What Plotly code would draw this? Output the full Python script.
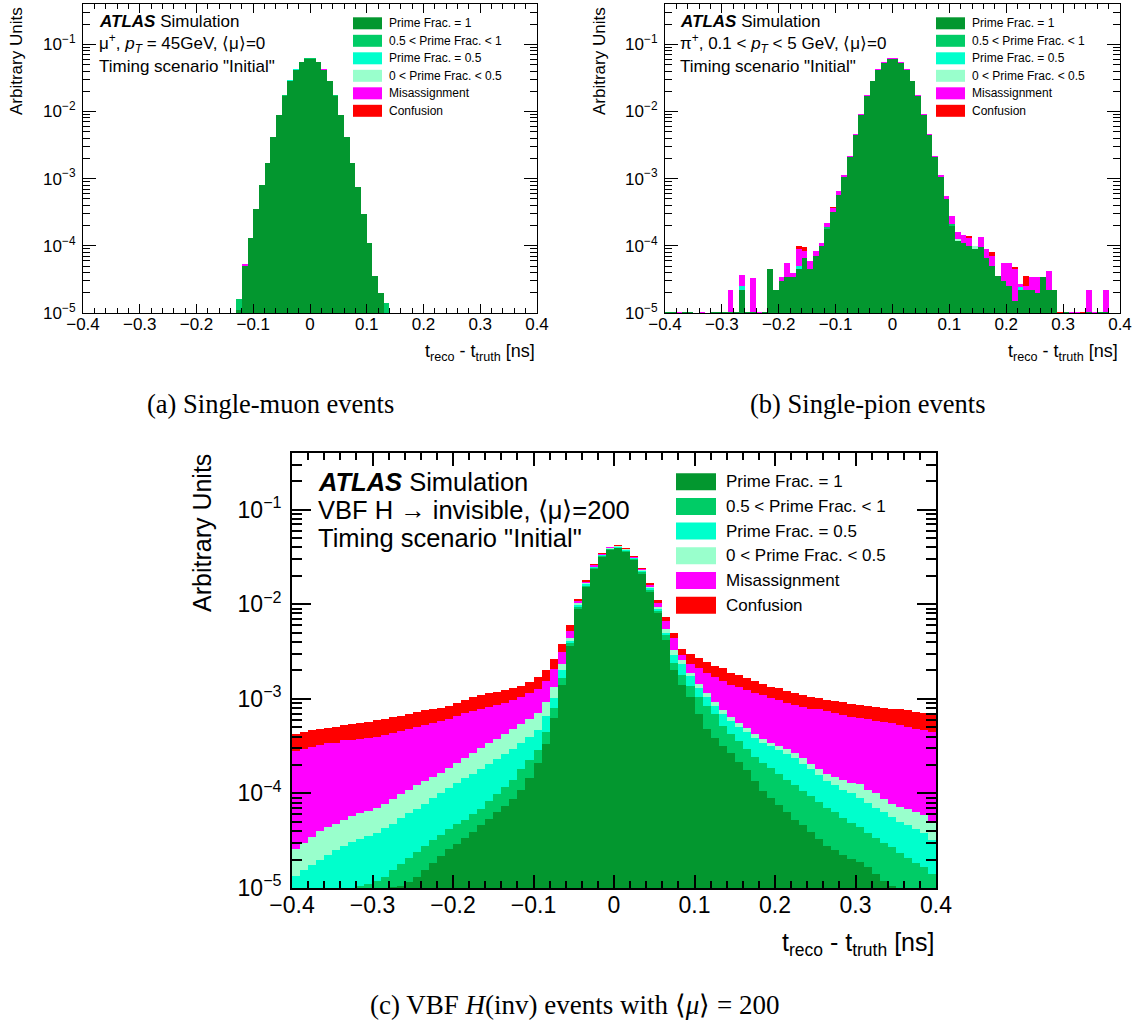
import numpy as np
import plotly.graph_objects as go

# ---------------- binning and categories ----------------
bin_edges = np.linspace(-0.4, 0.4, 81)
bin_centers = np.round((bin_edges[:-1] + bin_edges[1:]) / 2, 4)
bin_width = 0.01

category_labels = ["Prime Frac. = 1", "0.5 &lt; Prime Frac. &lt; 1", "Prime Frac. = 0.5",
                   "0 &lt; Prime Frac. &lt; 0.5", "Misassignment", "Confusion"]
category_colors = ["#03972F", "#00CC66", "#00FFCC", "#99FFCC", "#FF00FF", "#FF0000"]

y_decades = [1e-5, 1e-4, 1e-3, 1e-2, 1e-1]
y_decade_text = ["10<sup>\u22125</sup>", "10<sup>\u22124</sup>", "10<sup>\u22123</sup>",
                 "10<sup>\u22122</sup>", "10<sup>\u22121</sup>"]

# ---------------- (a) single muon: per-category bin contents ----------------
muon_prime1 = [0] * 27 + [1.1e-5, 5.0e-5, 1.3e-4, 3.5e-4, 8.0e-4, 1.7e-3, 4.2e-3, 9.0e-3, 0.0171, 0.0284,
                          0.0415, 0.0537, 0.0610, 0.0610, 0.0537, 0.0415, 0.0284, 0.0171, 9.0e-3, 4.2e-3,
                          1.7e-3, 7.5e-4, 3.0e-4, 1.1e-4, 3.5e-5, 2.0e-5] + [0] * 27
muon_mid = [0] * 27 + [5e-6] + [0] * 7 + [2.5e-4, 4e-4, 6e-4, 8e-4, 9e-4, 9e-4, 8e-4, 6e-4, 4e-4, 2.5e-4] \
           + [0] * 8 + [1.4e-5] + [0] * 26
muon_half = [0] * 36 + [2e-4, 3e-4, 4e-4, 4e-4, 3e-4, 2e-4] + [0] * 38
muon_low = [0] * 80
muon_misassign = [0] * 28 + [3e-6] + [0] * 8 + [2e-4, 3e-4, 3e-4, 3e-4, 3e-4, 2e-4] + [0] * 37
muon_confusion = [0] * 80

# ---------------- (b) single pion: per-category bin contents ----------------
pion_prime1 = [
    1.05e-5, 1.05e-5, 0, 1.05e-5, 1.05e-5, 0, 0, 0, 1.05e-5, 1.05e-5,
    1.05e-5, 1.05e-5, 1.05e-5, 2.2e-5, 1.05e-5, 1.05e-5, 0, 1.05e-5, 4.5e-5, 2.2e-5,
    3.0e-5, 3.4e-5, 3.4e-5, 4.5e-5, 6.5e-5, 4.5e-5, 7.0e-5, 1.0e-4, 1.8e-4, 3.2e-4,
    5.8e-4, 1.05e-3, 2.1e-3, 4.4e-3, 9.0e-3, 0.0170, 0.0280, 0.0410, 0.0530, 0.0600,
    0.0600, 0.0530, 0.0410, 0.0280, 0.0170, 9.0e-3, 4.4e-3, 2.1e-3, 1.05e-3, 5.0e-4,
    2.0e-4, 1.2e-4, 1.1e-4, 1.0e-4, 9.0e-5, 9.5e-5, 6.5e-5, 5.0e-5, 3.5e-5, 3.0e-5,
    2.5e-5, 1.5e-5, 2.2e-5, 2.2e-5, 2.2e-5, 2.0e-5, 3.4e-5, 2.2e-5, 2.2e-5, 0,
    1.05e-5, 0, 0, 0, 1.05e-5, 0, 1.05e-5, 1.05e-5, 0, 0,
]
pion_mid = [0] * 28 + [1.0e-5] + [0] * 8 + [4e-4, 5e-4, 6e-4, 6e-4, 5e-4, 4e-4] + [0] * 7 + [1.0e-5] + [0] * 29
pion_half = [0] * 13 + [3e-6] + [0] * 9 + [5e-6] + [0] * 38 + [2e-6] + [0] * 17
pion_low = [0] * 51 + [5e-6] + [0] * 2 + [1.0e-5] + [0] * 25
pion_misassign = [
    0, 0, 1.05e-5, 0, 0, 0, 1.05e-5, 0, 0, 0,
    0, 1.15e-5, 0, 1.2e-5, 0, 2.3e-5, 1.05e-5, 0, 0, 0,
    4e-6, 2.2e-5, 6e-6, 4.0e-5, 2.0e-5, 1.5e-5, 1.5e-5, 1.0e-5, 3.0e-5, 5.0e-5,
    7.0e-5, 8e-5, 1.0e-4, 1.6e-4, 2.5e-4, 4e-4, 6e-4, 8e-4, 1.0e-3, 1.1e-3,
    1.1e-3, 1.0e-3, 8e-4, 6e-4, 4e-4, 2.5e-4, 1.5e-4, 1.0e-4, 7e-5, 6e-5,
    7e-5, 3.5e-5, 3.5e-5, 3.0e-5, 0, 4.0e-5, 2.5e-5, 2.0e-5, 0, 2.5e-5,
    3.0e-5, 3.0e-5, 3e-6, 3e-6, 1.2e-5, 1.4e-5, 0, 2.0e-5, 0, 0,
    0, 1.05e-5, 1.05e-5, 0, 1.15e-5, 1.05e-5, 0, 1.15e-5, 0, 0,
]
pion_confusion = [
    0, 0, 0, 0, 0, 0, 0, 0, 0, 0,
    0, 0, 0, 0, 0, 0, 0, 0, 0, 0,
    0, 0, 0, 1.0e-5, 1.0e-5, 0, 0, 0, 0, 1.0e-5,
    0, 0, 0, 0, 0, 0, 0, 0, 0, 0,
    0, 0, 0, 0, 0, 0, 0, 0, 0, 0,
    0, 0, 0, 1.0e-5, 0, 0, 0, 1.0e-5, 0, 0,
    0, 3e-6, 0, 1.0e-5, 0, 0, 0, 0, 0, 1.05e-5,
    0, 0, 0, 1.05e-5, 0, 0, 0, 0, 0, 0,
]

# ---------------- (c) VBF H(inv), <mu>=200: upper edge of each stacked band ----------------
vbf_top_prime1 = [
    2.0e-6, 2.3e-6, 2.7e-6, 3.1e-6, 3.6e-6, 4.2e-6, 4.9e-6, 5.7e-6, 6.6e-6, 7.6e-6,
    8.6e-6, 9.6e-6, 1.02e-5, 1.05e-5, 1.15e-5, 1.3e-5, 1.55e-5, 1.85e-5, 2.2e-5, 2.6e-5,
    2.95e-5, 3.4e-5, 3.9e-5, 4.6e-5, 5.4e-5, 6.3e-5, 7.4e-5, 8.7e-5, 1.1e-4, 1.45e-4,
    2.1e-4, 3.3e-4, 6.3e-4, 1.4e-3, 3.6e-3, 9.0e-3, 0.0154, 0.0237, 0.0320, 0.0376,
    0.0392, 0.0361, 0.0292, 0.0210, 0.0135, 8.0e-3, 4.2e-3, 2.0e-3, 1.4e-3, 1.05e-3,
    7.0e-4, 4.8e-4, 3.9e-4, 3.2e-4, 2.65e-4, 2.15e-4, 1.75e-4, 1.35e-4, 1.05e-4, 9.0e-5,
    7.6e-5, 6.3e-5, 5.3e-5, 4.6e-5, 3.9e-5, 3.3e-5, 2.8e-5, 2.5e-5, 2.25e-5, 2.05e-5,
    1.9e-5, 1.65e-5, 1.4e-5, 1.2e-5, 1.05e-5, 9.5e-6, 1.0e-5, 9.0e-6, 8.0e-6, 7.0e-6,
]
vbf_top_mid = [
    5.0e-6, 5.5e-6, 6.0e-6, 6.8e-6, 7.5e-6, 8.3e-6, 9.2e-6, 1.0e-5, 1.05e-5, 1.1e-5,
    1.2e-5, 1.3e-5, 1.55e-5, 1.8e-5, 2.1e-5, 2.4e-5, 2.75e-5, 3.2e-5, 3.6e-5, 4.2e-5,
    4.7e-5, 5.2e-5, 6.0e-5, 6.9e-5, 8.3e-5, 9.8e-5, 1.17e-4, 1.4e-4, 1.8e-4, 2.25e-4,
    2.9e-4, 4.5e-4, 8.0e-4, 1.65e-3, 3.9e-3, 9.4e-3, 0.0158, 0.0242, 0.0325, 0.0382,
    0.0398, 0.0368, 0.0299, 0.0217, 0.0141, 8.5e-3, 4.7e-3, 2.4e-3, 1.8e-3, 1.38e-3,
    1.05e-3, 8.5e-4, 6.9e-4, 5.2e-4, 4.3e-4, 3.55e-4, 2.95e-4, 2.45e-4, 2.1e-4, 1.85e-4,
    1.6e-4, 1.4e-4, 1.23e-4, 1.07e-4, 9.3e-5, 8.1e-5, 7.1e-5, 6.3e-5, 5.5e-5, 4.9e-5,
    4.4e-5, 3.8e-5, 3.4e-5, 3.0e-5, 2.7e-5, 2.35e-5, 2.1e-5, 1.85e-5, 1.65e-5, 1.4e-5,
]
vbf_top_half = [
    1.35e-5, 1.55e-5, 1.75e-5, 2.0e-5, 2.25e-5, 2.5e-5, 2.8e-5, 3.1e-5, 3.3e-5, 3.55e-5,
    3.8e-5, 4.3e-5, 4.8e-5, 5.5e-5, 6.2e-5, 6.9e-5, 7.8e-5, 8.9e-5, 1.0e-4, 1.15e-4,
    1.3e-4, 1.45e-4, 1.6e-4, 1.8e-4, 2.05e-4, 2.3e-4, 2.6e-4, 2.95e-4, 3.4e-4, 4.0e-4,
    4.7e-4, 6.6e-4, 1.02e-3, 2.0e-3, 4.1e-3, 9.8e-3, 0.0162, 0.0247, 0.0331, 0.0389,
    0.0405, 0.0375, 0.0306, 0.0223, 0.0147, 8.9e-3, 5.0e-3, 2.9e-3, 2.35e-3, 1.75e-3,
    1.3e-3, 1.05e-3, 8.5e-4, 6.9e-4, 5.9e-4, 5.1e-4, 4.5e-4, 3.9e-4, 3.45e-4, 3.15e-4,
    2.9e-4, 2.6e-4, 2.35e-4, 2.05e-4, 1.8e-4, 1.55e-4, 1.35e-4, 1.23e-4, 1.1e-4, 1.0e-4,
    8.9e-5, 7.9e-5, 7.1e-5, 6.3e-5, 5.6e-5, 5.0e-5, 4.6e-5, 4.2e-5, 3.8e-5, 3.2e-5,
]
vbf_top_low = [
    2.6e-5, 3.0e-5, 3.45e-5, 4.0e-5, 4.4e-5, 4.8e-5, 5.2e-5, 5.8e-5, 6.2e-5, 6.6e-5,
    7.1e-5, 7.8e-5, 8.7e-5, 9.8e-5, 1.1e-4, 1.23e-4, 1.35e-4, 1.5e-4, 1.65e-4, 1.85e-4,
    2.1e-4, 2.35e-4, 2.7e-4, 3.0e-4, 3.4e-4, 3.8e-4, 4.3e-4, 4.8e-4, 5.4e-4, 6.2e-4,
    7.1e-4, 9.3e-4, 1.35e-3, 2.35e-3, 4.4e-3, 0.0102, 0.0166, 0.0251, 0.0336, 0.0395,
    0.0411, 0.0381, 0.0312, 0.0229, 0.0152, 9.4e-3, 5.5e-3, 3.3e-3, 2.6e-3, 1.9e-3,
    1.42e-3, 1.15e-3, 9.3e-4, 7.6e-4, 6.5e-4, 5.6e-4, 4.9e-4, 4.25e-4, 3.8e-4, 3.45e-4,
    3.2e-4, 2.95e-4, 2.7e-4, 2.35e-4, 2.05e-4, 1.8e-4, 1.6e-4, 1.5e-4, 1.4e-4, 1.3e-4,
    1.25e-4, 1.1e-4, 1.0e-4, 8.7e-5, 7.8e-5, 7.2e-5, 6.8e-5, 6.3e-5, 5.9e-5, 5.0e-5,
]
vbf_top_misassign = [
    2.8e-4, 2.95e-4, 3.1e-4, 3.25e-4, 3.4e-4, 3.45e-4, 3.65e-4, 3.7e-4, 3.8e-4, 3.9e-4,
    4.0e-4, 4.15e-4, 4.35e-4, 4.55e-4, 4.8e-4, 5.0e-4, 5.25e-4, 5.5e-4, 5.9e-4, 6.2e-4,
    6.6e-4, 7.1e-4, 7.4e-4, 7.9e-4, 8.3e-4, 8.7e-4, 9.1e-4, 9.8e-4, 1.05e-3, 1.15e-3,
    1.26e-3, 1.55e-3, 2.05e-3, 3.15e-3, 5.2e-3, 0.0108, 0.0172, 0.0258, 0.0343, 0.0402,
    0.0418, 0.0388, 0.0319, 0.0236, 0.0160, 0.0104, 6.6e-3, 4.4e-3, 2.9e-3, 2.35e-3,
    2.1e-3, 1.9e-3, 1.7e-3, 1.55e-3, 1.41e-3, 1.32e-3, 1.23e-3, 1.15e-3, 1.1e-3, 1.02e-3,
    9.8e-4, 9.1e-4, 8.7e-4, 8.3e-4, 7.9e-4, 7.8e-4, 7.4e-4, 7.1e-4, 6.8e-4, 6.5e-4,
    6.3e-4, 6.2e-4, 5.9e-4, 5.75e-4, 5.5e-4, 5.25e-4, 5.0e-4, 4.8e-4, 4.7e-4, 4.5e-4,
]
vbf_top_confusion = [
    4.3e-4, 4.5e-4, 4.7e-4, 4.8e-4, 4.9e-4, 5.1e-4, 5.25e-4, 5.4e-4, 5.6e-4, 5.75e-4,
    6.0e-4, 6.2e-4, 6.5e-4, 6.6e-4, 6.9e-4, 7.2e-4, 7.6e-4, 7.8e-4, 8.1e-4, 8.5e-4,
    9.1e-4, 9.8e-4, 1.05e-3, 1.1e-3, 1.15e-3, 1.17e-3, 1.23e-3, 1.29e-3, 1.38e-3, 1.51e-3,
    1.7e-3, 2.0e-3, 2.65e-3, 3.8e-3, 6.0e-3, 0.0115, 0.0180, 0.0265, 0.0350, 0.0408,
    0.0425, 0.0395, 0.0326, 0.0243, 0.0167, 0.0111, 7.3e-3, 5.0e-3, 3.4e-3, 2.95e-3,
    2.7e-3, 2.45e-3, 2.25e-3, 2.1e-3, 1.9e-3, 1.78e-3, 1.66e-3, 1.55e-3, 1.45e-3, 1.35e-3,
    1.29e-3, 1.2e-3, 1.15e-3, 1.1e-3, 1.05e-3, 1.02e-3, 9.8e-4, 9.5e-4, 9.3e-4, 8.9e-4,
    8.7e-4, 8.5e-4, 8.3e-4, 8.1e-4, 7.9e-4, 7.8e-4, 7.6e-4, 7.2e-4, 7.1e-4, 6.8e-4,
]

# ---------------- texts ----------------
atlas_label = "<b><i>ATLAS</i></b> Simulation"
muon_info = "\u03bc<sup>+</sup>, <i>p</i><sub><i>T</i></sub> = 45GeV, \u27e8\u03bc\u27e9=0"
pion_info = "\u03c0<sup>+</sup>, 0.1 &lt; <i>p</i><sub><i>T</i></sub> &lt; 5 GeV, \u27e8\u03bc\u27e9=0"
vbf_info = "VBF H \u2192 invisible, \u27e8\u03bc\u27e9=200"
timing_label = 'Timing scenario "Initial"'
x_title = "t<sub>reco</sub> - t<sub>truth</sub> [ns]"
y_title = "Arbitrary Units"
captions = ["(a) Single-muon events", "(b) Single-pion events",
            "(c) VBF <i>H</i>(inv) events with \u27e8<i>\u03bc</i>\u27e9\u2005=\u2005200"]

# ---------------- figure ----------------
W, H = 1143, 1028
SANS = "Liberation Sans, Arial, Helvetica, sans-serif"
SERIF = "Liberation Serif, Times New Roman, serif"


def fx(px):
    return px / W


def fy(py):
    return 1 - py / H


fig = go.Figure()

muon_stack = np.cumsum(np.array([muon_prime1, muon_mid, muon_half, muon_low, muon_misassign, muon_confusion]), axis=0)
pion_stack = np.cumsum(np.array([pion_prime1, pion_mid, pion_half, pion_low, pion_misassign, pion_confusion]), axis=0)
vbf_stack = np.array([vbf_top_prime1, vbf_top_mid, vbf_top_half, vbf_top_low, vbf_top_misassign, vbf_top_confusion])

for stack, xa, ya in [(muon_stack, "x", "y"), (pion_stack, "x2", "y2"), (vbf_stack, "x3", "y3")]:
    for k in reversed(range(6)):
        yv = [float(v) if v > 0 else None for v in stack[k]]
        fig.add_trace(go.Bar(
            x=bin_centers, y=yv, width=bin_width, name=category_labels[k],
            marker=dict(color=category_colors[k], line=dict(width=0)),
            showlegend=False, hoverinfo="skip", xaxis=xa, yaxis=ya))

minor_y = [m * 10.0 ** e for e in range(-5, 0) for m in range(2, 10)]
minor_y = [v for v in minor_y if v < 10 ** -0.4]


def xaxis_cfg(domain, anchor, fsize, major, minor, lw, standoff):
    return dict(domain=domain, anchor=anchor, range=[-0.4, 0.4], tick0=0, dtick=0.1,
                automargin=False,
                ticks="inside", ticklen=major, tickwidth=lw, tickcolor="black",
                showline=True, linecolor="black", linewidth=lw, mirror="allticks",
                showgrid=False, zeroline=False, ticklabelstandoff=standoff,
                tickfont=dict(family=SANS, size=fsize, color="black"),
                minor=dict(tick0=0, dtick=0.02, ticks="inside", ticklen=minor, tickwidth=lw,
                           tickcolor="black", showgrid=False))


def yaxis_cfg(domain, anchor, fsize, major, minor, lw, standoff):
    return dict(domain=domain, anchor=anchor, type="log", range=[-5, -0.4],
                automargin=False,
                tickmode="array", tickvals=y_decades, ticktext=y_decade_text,
                ticks="inside", ticklen=major, tickwidth=lw, tickcolor="black",
                showline=True, linecolor="black", linewidth=lw, mirror="allticks",
                showgrid=False, zeroline=False, ticklabelstandoff=standoff,
                tickfont=dict(family=SANS, size=fsize, color="black"),
                minor=dict(tickmode="array", tickvals=minor_y, ticks="inside", ticklen=minor,
                           tickwidth=lw, tickcolor="black", showgrid=False))


top_ab, bot_ab = 4, 313
top_c, bot_c = 453, 888
fig.update_layout(
    width=W, height=H, margin=dict(l=0, r=0, t=0, b=0, autoexpand=False),
    paper_bgcolor="white", plot_bgcolor="white",
    barmode="overlay", bargap=0, showlegend=False,
    font=dict(family=SANS, color="black"),
    xaxis=xaxis_cfg([fx(83), fx(537)], "y", 17, 9, 5, 1.2, -5),
    yaxis=yaxis_cfg([fy(bot_ab), fy(top_ab)], "x", 17, 13, 7, 1.2, 3),
    xaxis2=xaxis_cfg([fx(665), fx(1120)], "y2", 17, 9, 5, 1.2, -5),
    yaxis2=yaxis_cfg([fy(bot_ab), fy(top_ab)], "x2", 17, 13, 7, 1.2, 3),
    xaxis3=xaxis_cfg([fx(292), fx(936)], "y3", 23, 13, 7, 1.8, -5),
    yaxis3=yaxis_cfg([fy(bot_c), fy(top_c)], "x3", 23, 19, 10, 1.8, 4),
)

annotations = []
shapes = []


def text(xp, yp, s, size, xanchor="left", family=SANS, angle=0, yanchor="middle"):
    annotations.append(dict(x=fx(xp), y=fy(yp), xref="paper", yref="paper", text=s, showarrow=False,
                            xanchor=xanchor, yanchor=yanchor, textangle=angle,
                            font=dict(family=family, size=size, color="black")))


# info blocks
for x0, ys, size, info in [(97, (21, 44, 66), 17, muon_info),
                           (678, (21, 44, 66), 17, pion_info),
                           (316, (482, 510, 538), 25.5, vbf_info)]:
    text(x0, ys[0], atlas_label, size)
    text(x0, ys[1], info, size)
    text(x0, ys[2], timing_label, size)

# legends
for bx0, bx1, tx, y0, dy, hh, size in [(353, 382, 387, 23.3, 17.5, 6, 12),
                                        (936, 965, 970, 23.3, 17.5, 6, 12),
                                        (676, 716, 724, 481.7, 24.7, 8.5, 17)]:
    for k in range(6):
        yc = y0 + k * dy
        shapes.append(dict(type="rect", xref="paper", yref="paper", x0=fx(bx0), x1=fx(bx1),
                           y0=fy(yc + hh), y1=fy(yc - hh), fillcolor=category_colors[k],
                           line=dict(width=0)))
        text(tx, yc, category_labels[k], size)

# axis titles
text(537, 352, x_title, 18, xanchor="right")
text(1120, 352, x_title, 18, xanchor="right")
text(936, 944, x_title, 25, xanchor="right")
text(17, 5, y_title, 17, xanchor="center", angle=-90, yanchor="top")
text(600, 5, y_title, 17, xanchor="center", angle=-90, yanchor="top")
text(202, 452, y_title, 25, xanchor="center", angle=-90, yanchor="top")

# captions
text(270, 404, captions[0], 26.5, xanchor="center", family=SERIF)
text(868, 404, captions[1], 26.5, xanchor="center", family=SERIF)
text(575, 1005, captions[2], 27, xanchor="center", family=SERIF)

fig.update_layout(annotations=annotations, shapes=shapes)
fig.write_html("out.html", config={"displayModeBar": False},
               post_script="document.body.style.margin='0px';document.body.style.padding='0px';"
                           "document.documentElement.style.overflow='hidden';")
